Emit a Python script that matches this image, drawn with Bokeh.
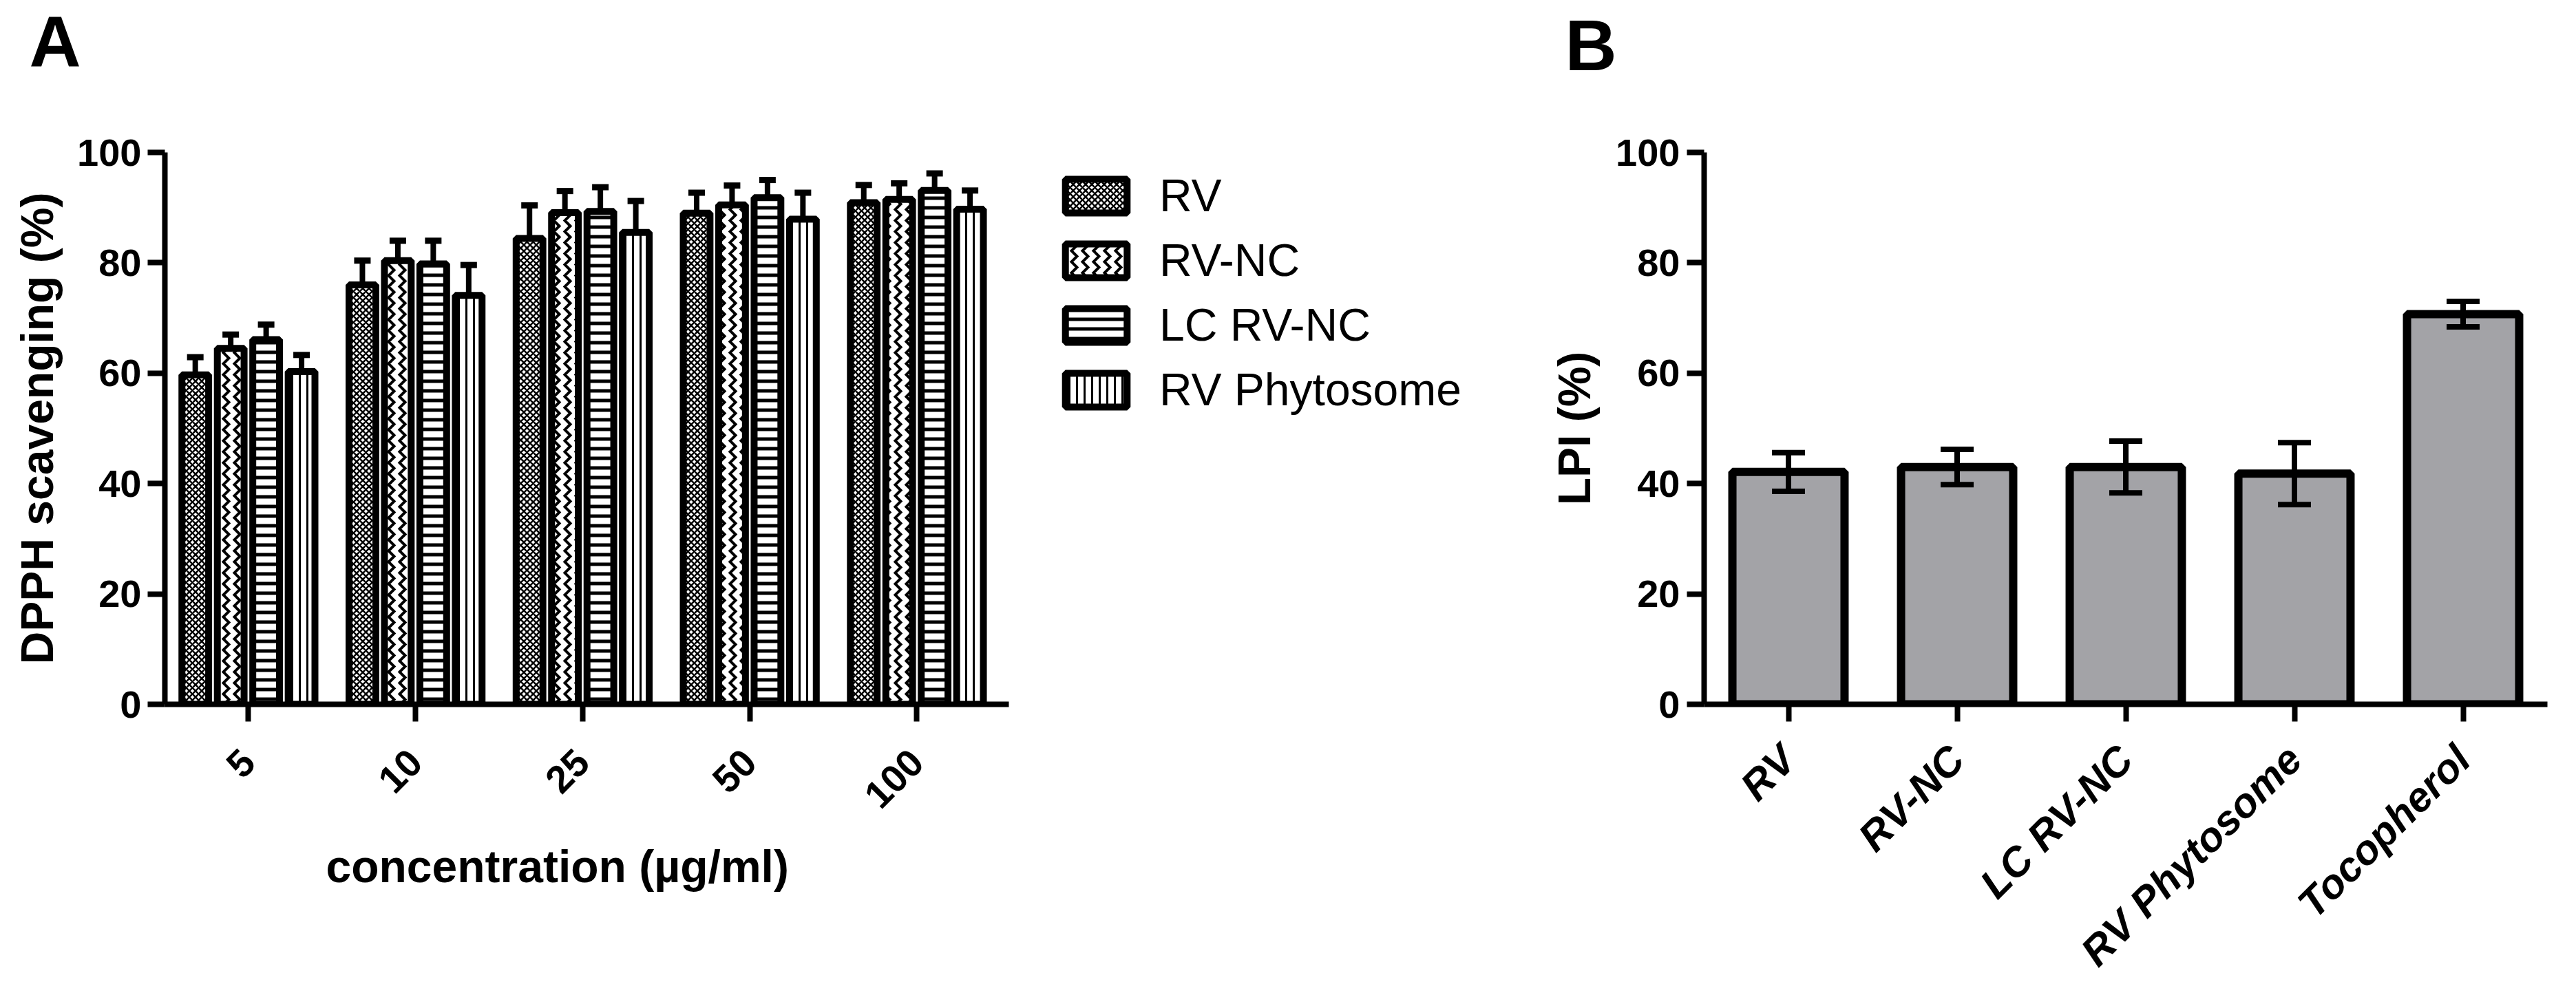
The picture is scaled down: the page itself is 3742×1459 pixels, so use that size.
import numpy as np
from math import pi
from bokeh.plotting import figure
from bokeh.models import (ColumnDataSource, Range1d, FixedTicker, Whisker, TeeHead,
                          Legend, LegendItem, Title)
from bokeh.layouts import row
from bokeh.embed import file_html
from bokeh.resources import INLINE

# ---------------- data ----------------
concentrations = ["5", "10", "25", "50", "100"]
series_names = ["RV", "RV-NC", "LC RV-NC", "RV Phytosome"]
rv_mean = [59.7, 76.0, 84.4, 89.0, 90.9]
rv_sd = [3.2, 4.4, 6.0, 3.7, 3.2]
rvnc_mean = [64.5, 80.4, 89.1, 90.5, 91.5]
rvnc_sd = [2.5, 3.6, 3.9, 3.5, 2.9]
lcrvnc_mean = [66.1, 79.8, 89.3, 91.8, 93.1]
lcrvnc_sd = [2.7, 4.2, 4.4, 3.2, 3.1]
phyto_mean = [60.3, 74.1, 85.5, 87.9, 89.7]
phyto_sd = [3.0, 5.5, 5.7, 4.8, 3.4]

lpi_groups = ["RV", "RV-NC", "LC RV-NC", "RV Phytosome", "Tocopherol"]
lpi_mean = [42.1, 43.0, 43.0, 41.8, 70.7]
lpi_sd = [3.5, 3.2, 4.7, 5.6, 2.3]

y_ticks = [0, 20, 40, 60, 80, 100]

FONT = "Liberation Sans"


def style_axes(p):
    for ax in (p.xaxis[0], p.yaxis[0]):
        ax.axis_line_width = 8
        ax.axis_line_color = "black"
        ax.major_tick_line_width = 8
        ax.major_tick_line_color = "black"
        ax.major_tick_out = 25
        ax.major_tick_in = 0
        ax.minor_tick_line_color = None
        ax.major_label_text_font = FONT
        ax.major_label_text_font_style = "bold"
        ax.major_label_text_font_size = "56px"
        ax.major_label_text_color = "black"
        ax.axis_label_text_font = FONT
        ax.axis_label_text_font_style = "bold"
        ax.axis_label_text_font_size = "66px"
        ax.axis_label_text_color = "black"
    p.xgrid.visible = False
    p.ygrid.visible = False
    p.outline_line_color = None
    p.yaxis[0].ticker = FixedTicker(ticks=y_ticks)


def panel_letter(p, letter, offset, gap):
    # a thin spacer keeps the panel letter up at the top edge of the figure
    p.add_layout(Title(text=" ", text_font_size="2px", standoff=gap), "above")
    p.add_layout(Title(text=letter, align="left", vertical_align="top", offset=offset,
                       standoff=0, text_font=FONT, text_font_style="bold",
                       text_font_size="104px", text_color="black"), "above")


# ---------------- panel A ----------------
pA = figure(width=2200, height=1443, x_range=Range1d(0.5, 8.578), y_range=Range1d(0, 100),
            output_backend="svg", toolbar_location=None, title=None,
            min_border_left=239, min_border_right=0, min_border_top=221, min_border_bottom=404)
style_axes(pA)
panel_letter(pA, "A", -197, 98)

x_base = np.arange(1, len(concentrations) + 1)
pitch = 0.212
bar_w = 0.16
means = [rv_mean, rvnc_mean, lcrvnc_mean, phyto_mean]
sds = [rv_sd, rvnc_sd, lcrvnc_sd, phyto_sd]
hatches = [("diagonal_cross", 9, 2.5), ("vertical_wave", 16, 4), ("horizontal_line", 14, 5), ("vertical_line", 11, 3)]

items = []
for k, (name, m, s, h) in enumerate(zip(series_names, means, sds, hatches)):
    xs = x_base + (k - 1.5) * pitch
    src = ColumnDataSource(dict(x=xs, top=m, lower=m, upper=np.array(m) + np.array(s)))
    r = pA.vbar(x="x", top="top", bottom=0, width=bar_w, source=src,
                fill_color="white", line_color="black", line_width=10,
                hatch_pattern=h[0], hatch_scale=h[1], hatch_weight=h[2], hatch_color="black")
    w = Whisker(source=src, base="x", lower="lower", upper="upper", dimension="height",
                line_color="black", line_width=8, lower_head=None,
                upper_head=TeeHead(size=24, line_width=9, line_color="black"), level="overlay")
    pA.add_layout(w)
    items.append(LegendItem(label=name, renderers=[r]))

pA.xaxis[0].bounds = (0.5, 5.55)
pA.xaxis[0].ticker = FixedTicker(ticks=list(x_base))
pA.xaxis[0].major_label_overrides = {int(i): c for i, c in zip(x_base, concentrations)}
pA.xaxis[0].major_label_orientation = pi / 4
pA.xaxis[0].major_label_standoff = 50
pA.add_layout(Title(text="concentration (\u00b5g/ml)", align="left", vertical_align="top",
                    offset=234, standoff=54, text_font=FONT, text_font_style="bold",
                    text_font_size="66px", text_color="black"), "below")
pA.yaxis[0].axis_label = "DPPH scavenging (%)"
pA.yaxis[0].major_label_standoff = 9
pA.yaxis[0].axis_label_standoff = 18

legend = Legend(items=items, location=(1297, 419), label_text_font=FONT,
                label_text_font_size="66px", label_text_color="black",
                glyph_width=112, glyph_height=61,
                label_standoff=36, spacing=18, padding=0, margin=0,
                border_line_color=None, background_fill_alpha=0)
pA.add_layout(legend)

# ---------------- panel B ----------------
pB = figure(width=1526, height=1443, x_range=Range1d(0.5, 5.5), y_range=Range1d(0, 100),
            output_backend="svg", toolbar_location=None, title=None,
            min_border_left=275, min_border_right=26, min_border_top=215, min_border_bottom=410)
style_axes(pB)
panel_letter(pB, "B", -202, 92)

xb = np.arange(1, len(lpi_groups) + 1)
srcB = ColumnDataSource(dict(x=xb, top=lpi_mean,
                             lower=np.array(lpi_mean) - np.array(lpi_sd),
                             upper=np.array(lpi_mean) + np.array(lpi_sd)))
pB.vbar(x="x", top="top", bottom=0, width=0.665, source=srcB,
        fill_color="#a3a3a7", line_color="black", line_width=12)
pB.add_layout(Whisker(source=srcB, base="x", lower="lower", upper="upper", dimension="height",
                      line_color="black", line_width=8, level="overlay",
                      upper_head=TeeHead(size=48, line_width=8, line_color="black"),
                      lower_head=TeeHead(size=48, line_width=8, line_color="black")))

pB.xaxis[0].ticker = FixedTicker(ticks=list(xb))
pB.xaxis[0].major_label_overrides = {int(i): c for i, c in zip(xb, lpi_groups)}
pB.xaxis[0].major_label_orientation = pi / 4
pB.xaxis[0].major_label_text_font_style = "bold italic"
pB.xaxis[0].major_label_text_font_size = "60px"
pB.xaxis[0].major_label_standoff = 45
pB.yaxis[0].axis_label = "LPI (%)"
pB.yaxis[0].major_label_standoff = 10
pB.yaxis[0].axis_label_standoff = 20

layout = row(pA, pB)
open("out.html", "w").write(file_html(layout, INLINE))
